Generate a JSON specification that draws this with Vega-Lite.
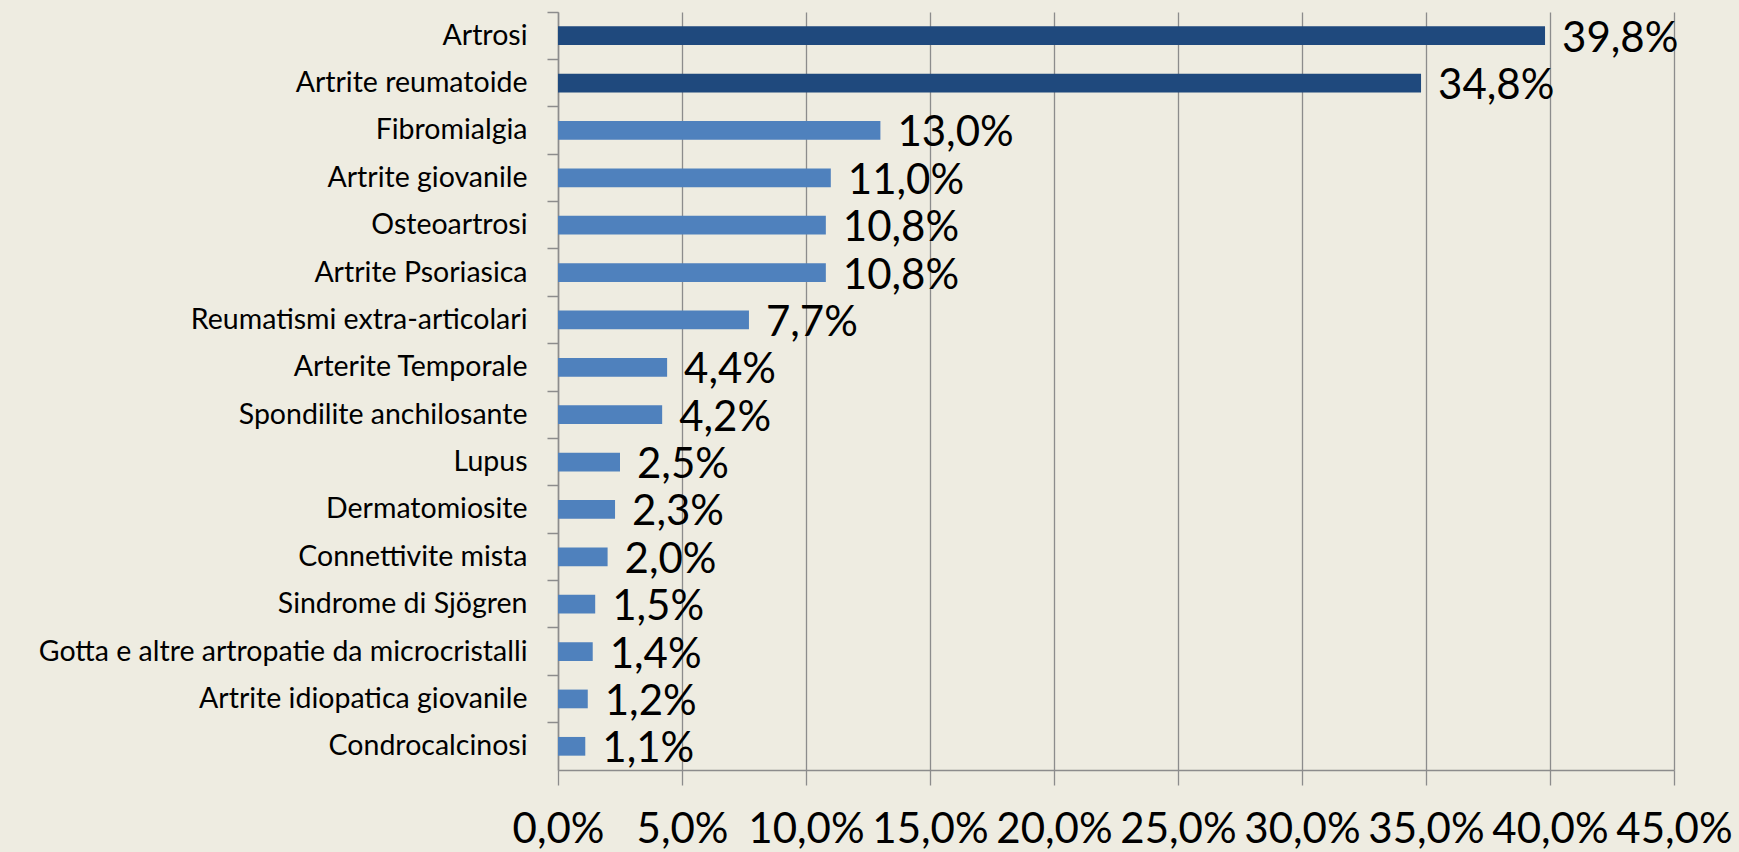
{
  "$schema": "https://vega.github.io/schema/vega-lite/v6.json",
  "autosize": {"type": "none"},
  "padding": {"left": 558, "top": 12, "right": 65, "bottom": 82},
  "width": 1116,
  "height": 758,
  "background": "#EEECE1",
  "config": {
    "view": {"stroke": null},
    "font": "Lato",
    "locale": {"number": {"decimal": ",", "thousands": ".", "grouping": [3], "currency": ["€", ""]}}
  },
  "data": {
    "values": [
      {"cat": "Artrosi", "v": 0.398, "grp": "top"},
      {"cat": "Artrite reumatoide", "v": 0.348, "grp": "top"},
      {"cat": "Fibromialgia", "v": 0.130, "grp": "rest"},
      {"cat": "Artrite giovanile", "v": 0.110, "grp": "rest"},
      {"cat": "Osteoartrosi", "v": 0.108, "grp": "rest"},
      {"cat": "Artrite Psoriasica", "v": 0.108, "grp": "rest"},
      {"cat": "Reumatismi extra-articolari", "v": 0.077, "grp": "rest"},
      {"cat": "Arterite Temporale", "v": 0.044, "grp": "rest"},
      {"cat": "Spondilite anchilosante", "v": 0.042, "grp": "rest"},
      {"cat": "Lupus", "v": 0.025, "grp": "rest"},
      {"cat": "Dermatomiosite", "v": 0.023, "grp": "rest"},
      {"cat": "Connettivite mista", "v": 0.020, "grp": "rest"},
      {"cat": "Sindrome di Sjögren", "v": 0.015, "grp": "rest"},
      {"cat": "Gotta e altre artropatie da microcristalli", "v": 0.014, "grp": "rest"},
      {"cat": "Artrite idiopatica giovanile", "v": 0.012, "grp": "rest"},
      {"cat": "Condrocalcinosi", "v": 0.011, "grp": "rest"}
    ]
  },
  "resolve": {"axis": {"y": "independent"}},
  "layer": [
    {
      "mark": {"type": "bar", "height": {"band": 0.395}},
      "encoding": {
        "y": {
          "field": "cat", "type": "nominal", "sort": null,
          "scale": {"paddingInner": 0, "paddingOuter": 0},
          "axis": {"title": null, "ticks": false, "tickSize": 0, "domain": false, "grid": false,
                   "labelFontSize": 28.5, "labelPadding": 31, "labelColor": "#000000", "labelLimit": 0}
        },
        "x": {
          "field": "v", "type": "quantitative",
          "scale": {"domain": [0, 0.45], "nice": false},
          "axis": {
            "title": null, "format": ".1%",
            "values": [0, 0.05, 0.1, 0.15, 0.2, 0.25, 0.3, 0.35, 0.4, 0.45],
            "grid": true, "gridColor": "#8c8c8c", "gridWidth": 1.3,
            "domainColor": "#8c8c8c", "domainWidth": 1.5,
            "tickColor": "#8c8c8c", "tickSize": 15, "tickWidth": 1.3,
            "labelFontSize": 42, "labelPadding": 57, "labelBaseline": "alphabetic",
            "labelOverlap": false, "labelFlush": false, "labelColor": "#000000"
          }
        },
        "color": {
          "field": "grp", "type": "nominal",
          "scale": {"domain": ["top", "rest"], "range": ["#1F497D", "#4F81BD"]},
          "legend": null
        }
      }
    },
    {
      "mark": {"type": "text", "align": "left", "baseline": "alphabetic", "dx": 17, "dy": 16, "fontSize": 42, "color": "#000000"},
      "encoding": {
        "y": {
          "field": "cat", "type": "nominal", "sort": null,
          "axis": {"title": null, "orient": "left", "labels": false, "bandPosition": 0,
                   "ticks": true, "tickSize": 11, "tickColor": "#8c8c8c", "tickWidth": 1.5,
                   "domain": true, "domainColor": "#8c8c8c", "domainWidth": 1.5, "grid": false}
        },
        "x": {"field": "v", "type": "quantitative"},
        "text": {"field": "v", "type": "quantitative", "format": ".1%"}
      }
    }
  ]
}
